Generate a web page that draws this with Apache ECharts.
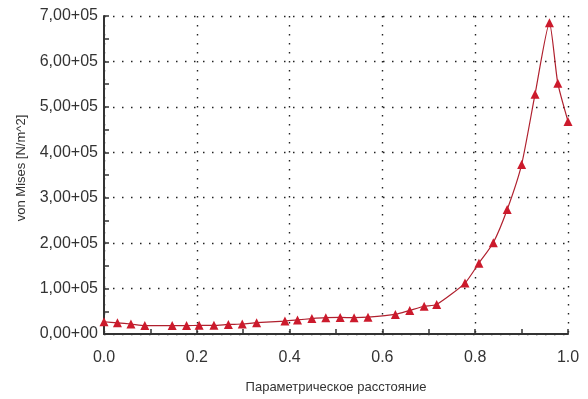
<!DOCTYPE html>
<html>
<head>
<meta charset="utf-8">
<script src="https://cdn.jsdelivr.net/npm/echarts@6/dist/echarts.min.js"></script>
<style>
  html, body { margin: 0; padding: 0; background: #fff; }
  #chart { width: 588px; height: 399px; }
</style>
</head>
<body>
<div id="chart"></div>
<script>
// параметрическое расстояние
const distance = [0.000, 0.029, 0.058, 0.088, 0.147, 0.178, 0.205, 0.237, 0.268, 0.298,
  0.329, 0.390, 0.417, 0.448, 0.478, 0.509, 0.539, 0.569, 0.628, 0.659,
  0.690, 0.717, 0.778, 0.808, 0.839, 0.869, 0.900, 0.929, 0.960, 0.978, 1.000];
// von Mises, N/m^2
const vonMises = [27000, 24500, 22000, 18500, 18500, 18500, 19000, 19000, 21000, 22000,
  25000, 28500, 31000, 34000, 36000, 36500, 36000, 37000, 43000, 52000,
  61000, 65000, 112000, 156000, 201000, 274000, 373000, 528000, 685000, 552000, 468000];

const xName = 'Параметрическое расстояние';
const yName = 'von Mises [N/m^2]';

// 1.00+05 style labels
function sciLabel(v) {
  if (v === 0) return '0,00+00';
  const e = Math.floor(Math.log10(v));
  const m = (v / Math.pow(10, e)).toFixed(2).replace('.', ',');
  return m + '+' + String(e).padStart(2, '0');
}

const chart = echarts.init(document.getElementById('chart'));

const dotted = { show: true, lineStyle: { color: '#222', type: [1.5, 7.5], width: 1.4 } };
const font = 'Liberation Sans, Arial, sans-serif';

chart.setOption({
  animation: false,
  grid: { left: 104, right: 20, top: 16, bottom: 64 },
  xAxis: {
    type: 'value',
    min: 0, max: 1, interval: 0.2,
    name: xName,
    nameLocation: 'middle',
    nameGap: 47,
    nameTextStyle: { fontFamily: font, fontSize: 13, color: '#333' },
    axisLine: { lineStyle: { color: '#333', width: 2 } },
    axisTick: { inside: true, length: 5, lineStyle: { color: '#333', width: 1.5 } },
    minorTick: { show: true, splitNumber: 2, length: 5, lineStyle: { color: '#333', width: 1.5 } },
    axisLabel: { fontFamily: font, fontSize: 16, color: '#333', margin: 16,
      formatter: v => v.toFixed(1) },
    splitLine: dotted
  },
  yAxis: {
    type: 'value',
    min: 0, max: 700000, interval: 100000,
    name: yName,
    nameLocation: 'middle',
    nameGap: 76,
    nameTextStyle: { fontFamily: font, fontSize: 13, color: '#333', padding: [0, 0, 0, 14] },
    axisLine: { show: true, lineStyle: { color: '#333', width: 2 } },
    axisTick: { show: true, inside: true, length: 5, lineStyle: { color: '#333', width: 1.5 } },
    minorTick: { show: true, splitNumber: 2, length: 5, lineStyle: { color: '#333', width: 1.5 } },
    axisLabel: { fontFamily: font, fontSize: 16, color: '#333', margin: 6, formatter: sciLabel },
    splitLine: dotted
  },
  series: [{
    type: 'line',
    data: distance.map((d, i) => [d, vonMises[i]]),
    smooth: 0.2,
    symbol: 'triangle',
    symbolSize: 9,
    itemStyle: { color: '#cc1a2c' },
    lineStyle: { color: '#b0202e', width: 1.2 }
  }]
});
</script>
</body>
</html>
